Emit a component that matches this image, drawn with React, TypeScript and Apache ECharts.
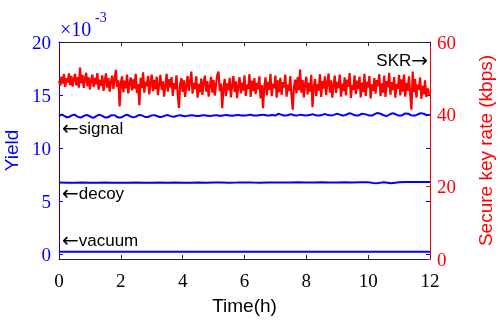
import React, { useEffect, useRef } from "react";
import * as echarts from "echarts";

// Time grid steps (hours)
const SKR_STEP = 0.04;
const SIG_STEP = 0.1;
const LOW_STEP = 0.25;

// Secure key rate (kbps), one value every 0.04 h from 0 to 12 h
const skrValues = [
  49.2, 47.9, 50.4, 48.5, 51.1, 47.6, 50.0, 48.8, 51.3, 48.1,
  50.6, 47.7, 49.8, 51.2, 48.0, 50.3, 47.4, 52.9, 48.6, 50.9,
  47.3, 49.9, 51.5, 47.8, 50.2, 46.9, 49.5, 51.0, 47.5, 50.1,
  48.3, 51.4, 46.8, 49.6, 47.9, 50.8, 46.5, 49.2, 51.3, 47.4,
  50.0, 46.3, 48.9, 50.7, 47.0, 49.8, 52.3, 47.6, 49.4, 42.2,
  48.7, 50.5, 46.1, 49.3, 47.2, 51.0, 45.8, 48.6, 50.2, 46.6,
  49.7, 47.1, 51.2, 45.9, 48.4, 42.5, 50.1, 47.3, 51.6, 46.0,
  49.0, 47.8, 50.6, 45.5, 48.8, 51.0, 46.4, 49.5, 47.0, 50.4,
  45.3, 48.2, 50.9, 46.8, 49.1, 44.9, 48.0, 51.2, 46.3, 49.7,
  47.5, 50.3, 45.1, 48.6, 46.9, 50.8, 45.6, 41.8, 48.3, 50.0,
  46.2, 49.4, 44.8, 48.1, 50.6, 46.5, 49.0, 51.8, 45.7, 48.7,
  47.0, 50.5, 44.6, 48.4, 46.1, 49.9, 45.4, 48.9, 50.7, 46.3,
  49.2, 44.9, 47.8, 50.4, 46.0, 49.5, 45.2, 48.3, 50.9, 51.8,
  46.4, 48.5, 41.7, 47.3, 49.8, 45.0, 48.6, 46.7, 50.1, 44.7,
  48.0, 50.6, 46.2, 49.1, 44.5, 47.9, 50.3, 45.8, 48.8, 46.6,
  50.8, 45.1, 48.2, 47.0, 51.1, 44.8, 49.3, 46.4, 50.0, 45.6,
  48.7, 46.9, 50.5, 44.4, 48.1, 41.7, 47.5, 50.2, 45.3, 49.0,
  46.8, 51.2, 45.0, 48.5, 47.2, 50.7, 44.6, 49.4, 46.1, 50.1,
  45.4, 48.9, 47.4, 51.0, 44.9, 48.2, 46.5, 50.6, 45.2, 41.3,
  47.7, 49.6, 45.8, 50.3, 46.7, 52.4, 46.0, 49.5, 44.7, 48.3,
  50.4, 45.5, 48.7, 46.3, 50.9, 42.0, 47.6, 49.8, 45.0, 48.4,
  46.6, 51.1, 44.8, 49.2, 47.1, 50.5, 45.3, 48.6, 51.3, 46.0,
  49.4, 44.6, 48.0, 50.7, 45.9, 49.0, 47.3, 51.0, 44.9, 48.5,
  46.4, 50.2, 45.2, 49.6, 47.6, 51.4, 44.5, 48.1, 46.8, 50.8,
  45.6, 49.3, 47.0, 50.4, 44.7, 48.8, 46.2, 51.2, 45.1, 49.0,
  47.4, 50.6, 44.4, 48.3, 46.5, 50.0, 45.7, 49.5, 47.8, 51.1,
  45.0, 48.6, 46.0, 50.7, 44.8, 49.2, 47.5, 51.5, 45.4, 48.9,
  46.7, 50.3, 44.6, 48.4, 47.1, 50.9, 45.2, 49.7, 46.3, 51.0,
  44.9, 48.7, 46.5, 50.5, 45.6, 41.3, 51.8, 46.1, 49.8, 44.6,
  48.2, 46.8, 50.2, 44.3, 47.9, 45.5, 49.4, 44.8, 47.2, 46.0,
  45.2,
];

// Signal yield (x1e-3), every 0.1 h
const signalValues = [
  13.05, 13.15, 13.0, 12.92, 13.08, 13.15, 12.98, 12.9, 13.05, 13.14,
  13.0, 12.88, 13.02, 13.15, 13.05, 12.9, 12.95, 13.12, 13.1, 12.93,
  12.9, 13.05, 13.15, 13.02, 12.92, 13.0, 13.13, 13.08, 12.95, 12.98,
  13.1, 13.12, 13.0, 12.95, 13.05, 13.14, 13.03, 12.97, 13.05, 13.12,
  13.06, 13.02, 13.08, 13.12, 13.07, 13.04, 13.09, 13.12, 13.06, 13.05,
  13.1, 13.12, 13.06, 13.08, 13.13, 13.1, 13.07, 13.11, 13.14, 13.09,
  13.08, 13.12, 13.15, 13.1, 13.08, 13.13, 13.16, 13.11, 13.09, 13.14,
  13.1, 13.25, 13.15, 13.08, 13.12, 13.2, 13.12, 13.1, 13.15, 13.12,
  13.1, 13.13, 13.2, 13.12, 13.08, 13.14, 13.22, 13.14, 13.1, 13.15,
  13.25, 13.15, 13.08, 13.18, 13.3, 13.2, 13.1, 13.12, 13.25, 13.22,
  13.12, 13.08, 13.2, 13.32, 13.25, 13.12, 13.05, 13.2, 13.3, 13.2,
  13.08, 13.12, 13.28, 13.25, 13.1, 13.08, 13.2, 13.3, 13.25, 13.12,
  13.15,
];

// Decoy yield (x1e-3), every 0.25 h
const decoyValues = [
  6.78, 6.76, 6.77, 6.78, 6.77, 6.76, 6.78, 6.77, 6.76, 6.77,
  6.78, 6.77, 6.76, 6.78, 6.77, 6.78, 6.77, 6.76, 6.78, 6.77,
  6.78, 6.79, 6.77, 6.78, 6.8, 6.78, 6.77, 6.79, 6.8, 6.78,
  6.79, 6.81, 6.79, 6.8, 6.82, 6.8, 6.79, 6.81, 6.8, 6.82,
  6.81, 6.71, 6.82, 6.72, 6.82, 6.84, 6.83, 6.84, 6.83,
];

// Vacuum yield (x1e-3), every 0.25 h
const vacuumValues = [
  0.28, 0.29, 0.28, 0.27, 0.28, 0.29, 0.28, 0.28, 0.27, 0.28,
  0.29, 0.28, 0.28, 0.27, 0.28, 0.29, 0.28, 0.28, 0.27, 0.28,
  0.29, 0.28, 0.28, 0.27, 0.28, 0.29, 0.28, 0.28, 0.27, 0.28,
  0.29, 0.28, 0.28, 0.27, 0.28, 0.29, 0.28, 0.28, 0.27, 0.28,
  0.29, 0.28, 0.28, 0.27, 0.28, 0.29, 0.28, 0.28, 0.27,
];

const leftTicks = [0, 5, 10, 15, 20];

const BLUE = "#0000ff";
const RED = "#ff0000";
const SERIF = "'Liberation Serif', 'Times New Roman', serif";
const SANS = "'Liberation Sans', Arial, sans-serif";
const ARROW_FONT = "'DejaVu Sans', sans-serif";

const toPairs = (vals: number[], step: number) =>
  vals.map((v, i) => [+(i * step).toFixed(4), v]);

const annotRich = {
  a: { fontFamily: ARROW_FONT, fontSize: 20, fill: "#000", color: "#000" },
  t: { fontFamily: SANS, fontSize: 17, fill: "#000", color: "#000" },
};

export default function App() {
  const ref = useRef<HTMLDivElement>(null);
  useEffect(() => {
    if (!ref.current) return;
    const chart = echarts.init(ref.current, null, { renderer: "svg" });
    const base = {
      type: "line" as const,
      showSymbol: false,
      symbol: "none",
      silent: true,
    };
    chart.setOption({
      animation: false,
      grid: {
        left: 59,
        right: 70,
        top: 42,
        bottom: 62,
        containLabel: false,
        outerBoundsMode: "none",
      },
      xAxis: [
        {
          type: "value",
          min: 0,
          max: 12,
          interval: 2,
          position: "bottom",
          name: "Time(h)",
          nameLocation: "middle",
          nameGap: 37,
          nameTextStyle: { fontFamily: SANS, fontSize: 19, color: "#000" },
          axisLine: { onZero: false, lineStyle: { color: "#262626", width: 1 } },
          axisTick: { inside: true, length: 4, lineStyle: { color: "#262626" } },
          axisLabel: { fontFamily: SERIF, fontSize: 19, color: "#000", margin: 12 },
          splitLine: { show: false },
        },
        {
          type: "value",
          min: 0,
          max: 12,
          interval: 2,
          position: "top",
          axisLine: { onZero: false, lineStyle: { color: "#262626", width: 1 } },
          axisTick: { inside: true, length: 4, lineStyle: { color: "#262626" } },
          axisLabel: { show: false },
          splitLine: { show: false },
        },
      ],
      yAxis: [
        {
          type: "value",
          min: -0.4,
          max: 20,
          position: "left",
          name: "Yield",
          nameLocation: "middle",
          nameGap: 37,
          nameRotate: 90,
          nameTextStyle: { fontFamily: SANS, fontSize: 19, color: BLUE },
          axisLine: { show: true, onZero: false, lineStyle: { color: BLUE, width: 1 } },
          axisTick: {
            show: true,
            inside: true,
            length: 4,
            customValues: leftTicks,
            lineStyle: { color: BLUE },
          },
          axisLabel: {
            fontFamily: SERIF,
            fontSize: 19,
            color: BLUE,
            margin: 8,
            customValues: leftTicks,
          },
          splitLine: { show: false },
        },
        {
          type: "value",
          min: 0,
          max: 60,
          interval: 20,
          position: "right",
          name: "Secure key rate (kbps)",
          nameLocation: "middle",
          nameGap: 46,
          nameRotate: 90,
          nameTextStyle: { fontFamily: SANS, fontSize: 19, color: RED },
          axisLine: { show: true, onZero: false, lineStyle: { color: RED, width: 1 } },
          axisTick: { show: true, inside: true, length: 4, lineStyle: { color: RED } },
          axisLabel: { fontFamily: SERIF, fontSize: 19, color: RED, margin: 7 },
          splitLine: { show: false },
        },
        {
          type: "value",
          min: -0.4,
          max: 20,
          position: "right",
          axisLine: { show: false, onZero: false },
          axisTick: {
            show: true,
            inside: true,
            length: 4,
            customValues: leftTicks,
            lineStyle: { color: BLUE },
          },
          axisLabel: { show: false },
          splitLine: { show: false },
        },
      ],
      series: [
        {
          ...base,
          name: "SKR",
          yAxisIndex: 1,
          data: toPairs(skrValues, SKR_STEP),
          lineStyle: { color: RED, width: 2.2 },
          itemStyle: { color: RED },
        },
        {
          ...base,
          name: "signal",
          yAxisIndex: 0,
          data: toPairs(signalValues, SIG_STEP),
          lineStyle: { color: BLUE, width: 2 },
          itemStyle: { color: BLUE },
          smooth: 0.3,
        },
        {
          ...base,
          name: "decoy",
          yAxisIndex: 0,
          data: toPairs(decoyValues, LOW_STEP),
          lineStyle: { color: BLUE, width: 2 },
          itemStyle: { color: BLUE },
        },
        {
          ...base,
          name: "vacuum",
          yAxisIndex: 0,
          data: toPairs(vacuumValues, LOW_STEP),
          lineStyle: { color: BLUE, width: 2 },
          itemStyle: { color: BLUE },
        },
      ],
      graphic: [
        {
          type: "text",
          left: 60,
          top: 19,
          style: { text: "×10", font: `20px ${SERIF}`, fill: BLUE },
        },
        {
          type: "text",
          left: 95,
          top: 10,
          style: { text: "-3", font: `14px ${SERIF}`, fill: BLUE },
        },
        {
          type: "text",
          left: 62,
          top: 118,
          style: { text: "{a|←}{t|signal}", rich: annotRich },
        },
        {
          type: "text",
          left: 62,
          top: 183,
          style: { text: "{a|←}{t|decoy}", rich: annotRich },
        },
        {
          type: "text",
          left: 62,
          top: 230,
          style: { text: "{a|←}{t|vacuum}", rich: annotRich },
        },
        {
          type: "text",
          right: 72,
          top: 50,
          style: { text: "{t|SKR}{a|→}", rich: annotRich },
        },
      ],
    });
    return () => chart.dispose();
  }, []);
  return (
    <div
      ref={ref}
      style={{ position: "fixed", left: 0, top: 0, width: 500, height: 321 }}
    />
  );
}
